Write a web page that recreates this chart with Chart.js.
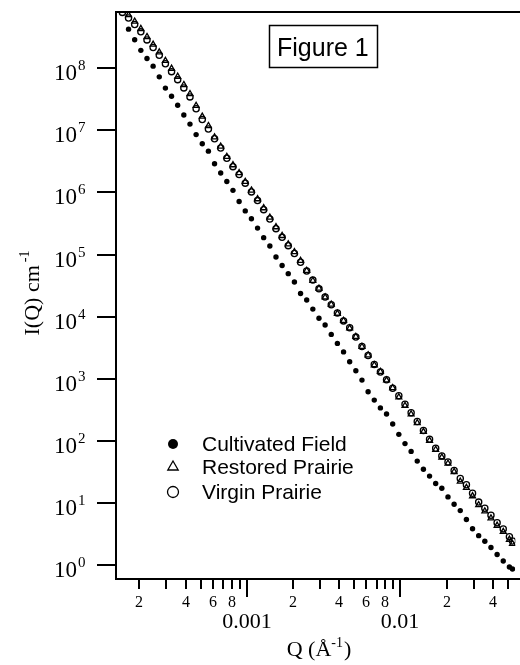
<!DOCTYPE html>
<html>
<head>
<meta charset="utf-8">
<script src="https://cdn.jsdelivr.net/npm/chart.js@4.4.0/dist/chart.umd.min.js"></script>
<style>
  html, body { margin: 0; padding: 0; background: #fff; }
  canvas { display: block; background: #fff; }
</style>
</head>
<body>
<canvas id="chart" width="520" height="665"></canvas>
<script>
// Q (1/Angstrom), shared by the three samples
const qValues = [
  1.549e-4, 1.698e-4, 1.862e-4, 2.042e-4, 2.239e-4, 2.455e-4, 2.692e-4, 2.951e-4, 3.236e-4, 3.548e-4,
  3.890e-4, 4.266e-4, 4.677e-4, 5.129e-4, 5.623e-4, 6.166e-4, 6.761e-4, 7.413e-4, 8.128e-4, 8.913e-4,
  9.772e-4, 1.072e-3, 1.175e-3, 1.288e-3, 1.413e-3, 1.549e-3, 1.698e-3, 1.862e-3, 2.042e-3, 2.239e-3,
  2.455e-3, 2.692e-3, 2.951e-3, 3.236e-3, 3.548e-3, 3.890e-3, 4.266e-3, 4.677e-3, 5.129e-3, 5.623e-3,
  6.166e-3, 6.761e-3, 7.413e-3, 8.128e-3, 8.913e-3, 9.772e-3, 0.01072, 0.01175, 0.01288, 0.01413,
  0.01549, 0.01698, 0.01862, 0.02042, 0.02239, 0.02455, 0.02692, 0.02951, 0.03236, 0.03548,
  0.03890, 0.04266, 0.04677, 0.05129, 0.0537
];

// I(Q) cm^-1
const cultivatedField = [
  null, 4.26e8, 2.88e8, 1.94e8, 1.43e8, 1.08e8, 7.26e7, 4.78e7, 3.54e7, 2.53e7,
  1.76e7, 1.26e7, 8.53e6, 6.08e6, 4.62e6, 2.90e6, 2.05e6, 1.50e6, 1.08e6, 7.13e5,
  5.04e5, 3.76e5, 2.66e5, 1.87e5, 1.37e5, 9.12e4, 6.65e4, 4.92e4, 3.61e4, 2.35e4,
  1.85e4, 1.32e4, 9.42e3, 7.33e3, 5.17e3, 3.70e3, 2.70e3, 1.88e3, 1.34e3, 949,
  618, 452, 339, 270, 186, 127, 90.2, 67.5, 47.1, 34.8,
  27.0, 20.5, 17.2, 12.5, 9.49, 7.52, 5.40, 3.83, 2.97, 2.41,
  1.91, 1.48, 1.16, 0.93, 0.86
];
const restoredPrairie = [
  null, 7.2e8, 5.68e8, 4.31e8, 3.2e8, 2.41e8, 1.81e8, 1.32e8, 9.87e7, 7.34e7,
  5.40e7, 3.86e7, 2.50e7, 1.67e7, 1.18e7, 7.77e6, 5.50e6, 3.75e6, 2.76e6, 2.06e6,
  1.49e6, 1.08e6, 7.82e5, 5.60e5, 3.95e5, 2.77e5, 2.00e5, 1.47e5, 1.10e5, 7.97e4,
  5.5e4, 3.8e4, 2.85e4, 2.05e4, 1.57e4, 1.12e4, 8.6e3, 6.5e3, 4.75e3, 3.28e3,
  2.4e3, 1.66e3, 1.3e3, 945, 710, 505, 368, 269, 194, 140,
  101, 72.2, 54.2, 43.3, 31.7, 22.2, 17.6, 12.9, 9.27, 7.36,
  5.68, 4.32, 3.43, 2.57, 2.2
];
const virginPrairie = [
  7.92e8, 6.43e8, 5.07e8, 3.85e8, 2.86e8, 2.15e8, 1.62e8, 1.18e8, 8.81e7, 6.55e7,
  4.82e7, 3.45e7, 2.23e7, 1.49e7, 1.05e7, 7.33e6, 5.19e6, 3.54e6, 2.60e6, 1.94e6,
  1.41e6, 1.02e6, 7.38e5, 5.28e5, 3.73e5, 2.61e5, 1.89e5, 1.39e5, 1.04e5, 7.52e4,
  5.42e4, 3.87e4, 2.80e4, 2.07e4, 1.55e4, 1.14e4, 8.53e3, 6.60e3, 4.68e3, 3.31e3,
  2.36e3, 1.69e3, 1.28e3, 960, 700, 532, 387, 283, 204, 147,
  106, 76.0, 57.1, 45.6, 33.4, 24.7, 19.6, 14.3, 10.3, 8.18,
  6.31, 4.80, 3.81, 2.86, 2.44
];

const seriesNames = ["Cultivated Field", "Restored Prairie", "Virgin Prairie"];

// axis ticks
const yTickExponents = [0, 1, 2, 3, 4, 5, 6, 7, 8];
const xMajorTicks = [0.001, 0.01];
const xMajorLabels = ["0.001", "0.01"];
const xMinorTicks = [
  2e-4, 3e-4, 4e-4, 5e-4, 6e-4, 7e-4, 8e-4, 9e-4,
  2e-3, 3e-3, 4e-3, 5e-3, 6e-3, 7e-3, 8e-3, 9e-3,
  0.02, 0.03, 0.04, 0.05
];
const xMinorLabels = [
  "2", "", "4", "", "6", "", "8", "",
  "2", "", "4", "", "6", "", "8", "",
  "2", "", "4", ""
];

const SERIF = '"Liberation Serif", "Times New Roman", serif';
const SANS = '"Liberation Sans", Arial, sans-serif';

function toPoints(values) {
  const pts = [];
  values.forEach((v, i) => {
    if (v !== null) pts.push({ x: qValues[i], y: v });
  });
  return pts;
}

const markerStyles = [
  { pointStyle: "circle", radius: 2.7, fill: "#000", borderWidth: 0 },
  { pointStyle: "triangle", radius: 3.4, fill: "rgba(0,0,0,0)", borderWidth: 1.3 },
  { pointStyle: "circle", radius: 3.1, fill: "rgba(0,0,0,0)", borderWidth: 1.3 },
];

// 軸、刻度、圖例與標題
const figurePlugin = {
  id: "figurePlugin",
  afterDraw(chart) {
    const { ctx, chartArea: a } = chart;
    const xs = chart.scales.x;
    const ys = chart.scales.y;
    ctx.save();
    ctx.strokeStyle = "#000";
    ctx.fillStyle = "#000";
    ctx.lineWidth = 2;

    // frame (top, left, bottom)
    ctx.beginPath();
    ctx.moveTo(chart.width, a.top);
    ctx.lineTo(a.left, a.top);
    ctx.lineTo(a.left, a.bottom);
    ctx.lineTo(chart.width, a.bottom);
    ctx.stroke();

    // y ticks 10^n
    yTickExponents.forEach((e) => {
      const py = Math.round(ys.getPixelForValue(Math.pow(10, e)));
      ctx.beginPath();
      ctx.moveTo(a.left - 19, py);
      ctx.lineTo(a.left, py);
      ctx.stroke();
      ctx.textBaseline = "alphabetic";
      ctx.font = "23px " + SERIF;
      ctx.textAlign = "right";
      ctx.fillText("10", a.left - 39, py + 12);
      ctx.font = "15px " + SERIF;
      ctx.textAlign = "left";
      ctx.fillText(String(e), a.left - 38, py + 2);
    });

    // x minor ticks
    ctx.textAlign = "center";
    xMinorTicks.forEach((q, i) => {
      const px = Math.round(xs.getPixelForValue(q));
      ctx.beginPath();
      ctx.moveTo(px, a.bottom);
      ctx.lineTo(px, a.bottom + 10);
      ctx.stroke();
      if (xMinorLabels[i]) {
        ctx.font = "16px " + SERIF;
        ctx.fillText(xMinorLabels[i], px, a.bottom + 28);
      }
    });
    // x major ticks
    xMajorTicks.forEach((q, i) => {
      const px = Math.round(xs.getPixelForValue(q));
      ctx.beginPath();
      ctx.moveTo(px, a.bottom);
      ctx.lineTo(px, a.bottom + 18);
      ctx.stroke();
      ctx.font = "22px " + SERIF;
      ctx.fillText(xMajorLabels[i], px, a.bottom + 49);
    });

    // x title: Q (Å^-1)
    ctx.textAlign = "left";
    ctx.font = "22px " + SERIF;
    const partA = "Q (\u00C5";
    const wA = ctx.measureText(partA).width;
    ctx.font = "14px " + SERIF;
    const wS = ctx.measureText("-1").width;
    ctx.font = "22px " + SERIF;
    const wC = ctx.measureText(")").width;
    let tx = 319 - (wA + wS + 1 + wC) / 2;
    ctx.fillText(partA, tx, 656);
    ctx.font = "14px " + SERIF;
    ctx.fillText("-1", tx + wA, 647);
    ctx.font = "22px " + SERIF;
    ctx.fillText(")", tx + wA + wS + 1, 656);

    // y title: I(Q) cm^-1
    ctx.save();
    ctx.translate(39, 293);
    ctx.rotate(-Math.PI / 2);
    ctx.font = "22px " + SERIF;
    const yA = "I(Q) cm";
    const wyA = ctx.measureText(yA).width;
    ctx.font = "14px " + SERIF;
    const wyS = ctx.measureText("-1").width;
    const ty = -(wyA + wyS + 3) / 2;
    ctx.font = "22px " + SERIF;
    ctx.fillText(yA, ty, 0);
    ctx.font = "14px " + SERIF;
    ctx.fillText("-1", ty + wyA + 3, -10);
    ctx.restore();

    // legend
    const legendY = [444, 467, 492];
    const legendMarkers = [
      { pointStyle: "circle", radius: 5, borderWidth: 0, fill: "#000" },
      { pointStyle: "triangle", radius: 6, borderWidth: 1.3, fill: "rgba(0,0,0,0)" },
      { pointStyle: "circle", radius: 5.5, borderWidth: 1.3, fill: "rgba(0,0,0,0)" },
    ];
    seriesNames.forEach((name, i) => {
      const m = legendMarkers[i];
      ctx.fillStyle = m.fill;
      ctx.strokeStyle = "#000";
      ctx.lineWidth = m.borderWidth;
      Chart.helpers.drawPoint(ctx, { pointStyle: m.pointStyle, radius: m.radius, borderWidth: m.borderWidth, rotation: 0 }, 173, legendY[i]);
      ctx.fillStyle = "#000";
      ctx.font = "21px " + SANS;
      ctx.textAlign = "left";
      ctx.textBaseline = "middle";
      ctx.fillText(name, 202, legendY[i] + 1);
    });

    // Figure 1 box
    ctx.lineWidth = 1.5;
    ctx.strokeRect(269.5, 25.5, 108, 42);
    ctx.font = "25px " + SANS;
    ctx.textBaseline = "alphabetic";
    ctx.textAlign = "left";
    ctx.fillText("Figure 1", 277, 56);

    ctx.restore();
  },
};

const datasets = [cultivatedField, restoredPrairie, virginPrairie].map((vals, i) => ({
  label: seriesNames[i],
  data: toPoints(vals),
  pointStyle: markerStyles[i].pointStyle,
  pointRadius: markerStyles[i].radius,
  pointHoverRadius: markerStyles[i].radius,
  backgroundColor: markerStyles[i].fill,
  borderColor: "#000",
  borderWidth: markerStyles[i].borderWidth,
  showLine: false,
}));

new Chart(document.getElementById("chart"), {
  type: "scatter",
  data: { datasets },
  options: {
    responsive: false,
    animation: false,
    devicePixelRatio: 1,
    layout: { padding: { left: 116, top: 12, right: 1, bottom: 86 } },
    plugins: { legend: { display: false }, tooltip: { enabled: false } },
    scales: {
      x: { type: "logarithmic", min: 1.407e-4, max: 0.05603, display: false },
      y: { type: "logarithmic", min: 0.595, max: 8.04e8, display: false },
    },
  },
  plugins: [figurePlugin],
});
</script>
</body>
</html>
